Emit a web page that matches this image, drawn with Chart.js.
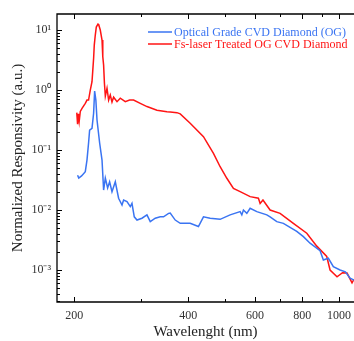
<!DOCTYPE html>
<html><head><meta charset="utf-8">
<script src="https://cdn.jsdelivr.net/npm/chart.js@4/dist/chart.umd.min.js"></script>
<style>html,body{margin:0;padding:0;background:#fff;overflow:hidden}</style>
</head><body><canvas id="c" width="354" height="341"></canvas>
<script>
const seriesNames = ['Optical Grade CVD Diamond (OG)', 'Fs-laser Treated OG CVD Diamond'];
const blueWavelengths = [204,205.5,209,213.8,216,218.1,219.5,222.7,224.9,226.3,228,229.6,233.3,236.7,239,241.5,244.9,247.9,251.5,256.6,261.8,267.3,269.9,275.5,281.1,284,288,292.8,301.8,311.1,317.4,327.2,337.3,344.1,354.8,358.4,369.5,380.9,404.6,425.5,438.7,456.9,485.5,515.9,548.3,554,559.4,571.1,582.7,606.9,644.9,657.9,685.2,713.3,773.8,805.6,839,891.6,909.7,937.7,966.6,1006.8,1040,1069.9,1096];
const blueValues = [0.038,0.034,0.037,0.0435,0.068,0.131,0.215,0.23,0.41,0.96,0.68,0.316,0.131,0.068,0.0215,0.034,0.0233,0.0296,0.0202,0.0296,0.0157,0.0121,0.0147,0.0138,0.0114,0.0129,0.0077,0.0068,0.0073,0.0083,0.0064,0.0073,0.0077,0.0077,0.0088,0.0089,0.0068,0.0060,0.0060,0.0053,0.0077,0.0073,0.0070,0.0083,0.0094,0.0083,0.010,0.0088,0.0107,0.0094,0.0083,0.0077,0.0064,0.0060,0.0044,0.0036,0.0028,0.0021,0.00147,0.00157,0.00114,0.0010,0.00093,0.00073,0.00068];
const redWavelengths = [203,204,205,206,207.4,209.6,213.8,216,218.1,220.4,222.7,223.8,224.9,225.8,227.2,228.6,231,231.8,234.2,236.7,237.8,239,240.2,241.5,244,246.4,248.9,251.5,254,259.3,264.5,272.7,279.9,286.8,298.7,311.1,330.6,351.3,358.4,373.3,380.9,404.6,438.7,466.2,485.5,505.7,526.4,548.3,582.7,612.8,619.2,630,657.9,699.1,757.9,822.4,873.9,928.6,947.5,988.6,1022,1050.6,1083,1096];
const redValues = [0.42,0.27,0.40,0.30,0.44,0.495,0.60,0.68,0.68,1.0,1.375,2.15,3.38,5.6,8.25,11.2,12.6,12.45,10,6.8,3.6,2.6,1.3,0.79,1.07,0.68,0.825,0.63,0.76,0.64,0.73,0.64,0.68,0.68,0.60,0.53,0.46,0.435,0.43,0.42,0.40,0.279,0.167,0.088,0.0527,0.0338,0.023,0.0202,0.0167,0.0157,0.0129,0.0147,0.010,0.0088,0.0060,0.0041,0.0025,0.00168,0.0010,0.00077,0.0009,0.00089,0.00061,0.00070];
const xTickValues = [200,300,400,500,600,700,800,900,1000];
const xTickLabels = ['200','','400','','600','','800','','1000'];
const yMajorValues = [0.001,0.01,0.1,1,10];
const yTickLabels = ['10\u207B\u00B3','10\u207B\u00B2','10\u207B\u00B9','10\u2070','10\u00B9'];
const xTitle = 'Wavelenght (nm)';
const yTitle = 'Normalized Responsivity (a.u.)';

const BLUE = '#3a74f2', RED = '#ff1414';
const SERIF = '"Liberation Serif","Times New Roman",serif';

const pts = (xs, ys) => xs.map((x, i) => ({x, y: ys[i]}));

const frameTicks = {
  id: 'frameTicks',
  afterDatasetsDraw(chart) {
    const {ctx, chartArea: a, scales: {x, y}} = chart;
    ctx.save();
    ctx.strokeStyle = '#000';
    ctx.lineWidth = 1.3;
    ctx.beginPath();
    ctx.moveTo(a.right + 2, a.top); ctx.lineTo(a.left, a.top);
    ctx.lineTo(a.left, a.bottom); ctx.lineTo(a.right + 2, a.bottom);
    ctx.stroke();
    ctx.lineWidth = 1;
    ctx.beginPath();
    xTickValues.forEach((v, i) => {
      const px = Math.round(x.getPixelForValue(v)) + 0.5;
      const len = xTickLabels[i] ? 5 : 3;
      ctx.moveTo(px, a.bottom); ctx.lineTo(px, a.bottom - len);
      ctx.moveTo(px, a.top); ctx.lineTo(px, a.top + len);
    });
    const lo = Math.floor(Math.log10(y.min)), hi = Math.ceil(Math.log10(y.max));
    for (let e = lo; e <= hi; e++) {
      for (let k = 1; k <= 9; k++) {
        const v = k * Math.pow(10, e);
        if (v < y.min || v > y.max) continue;
        const py = Math.round(y.getPixelForValue(v)) + 0.5;
        const len = k === 1 ? 5 : 3;
        ctx.moveTo(a.left, py); ctx.lineTo(a.left + len, py);
      }
    }
    ctx.stroke();
    ctx.restore();
  },
  afterDraw(chart) {
    const {ctx, chartArea: a} = chart;
    ctx.save();
    ctx.font = '12px ' + SERIF;
    ctx.textBaseline = 'middle';
    chart.data.datasets.forEach((ds, i) => {
      const yy = a.top + 18 + 12 * i;
      const x0 = a.left + 91;
      ctx.strokeStyle = ds.borderColor;
      ctx.lineWidth = 1.5;
      ctx.beginPath(); ctx.moveTo(x0, yy); ctx.lineTo(x0 + 24, yy); ctx.stroke();
      ctx.fillStyle = ds.borderColor;
      ctx.fillText(ds.label, x0 + 26, yy + 1);
    });
    ctx.restore();
  }
};

new Chart(document.getElementById('c'), {
  type: 'line',
  data: {
    datasets: [
      {label: seriesNames[0], data: pts(blueWavelengths, blueValues), borderColor: BLUE, borderWidth: 1.5, pointRadius: 0, tension: 0, fill: false},
      {label: seriesNames[1], data: pts(redWavelengths, redValues), borderColor: RED, borderWidth: 1.5, pointRadius: 0, tension: 0, fill: false}
    ]
  },
  options: {
    responsive: false, animation: false, devicePixelRatio: 1,
    layout: {padding: {top: 14, right: 0, left: 0, bottom: 0}},
    plugins: {legend: {display: false}, tooltip: {enabled: false}},
    scales: {
      x: {
        type: 'logarithmic', min: 180, max: 1096, position: 'bottom',
        grid: {display: false, drawTicks: false}, border: {display: false},
        afterBuildTicks: s => { s.ticks = xTickValues.map(v => ({value: v})); },
        afterFit: s => { s.height = 39; s.paddingLeft = 0; s.paddingRight = 0; },
        ticks: {autoSkip: false, maxRotation: 0, padding: 7, color: '#333', font: {family: SERIF, size: 12},
                callback: (v, i) => xTickLabels[i]},
        title: {display: true, text: xTitle, color: '#222', font: {family: SERIF, size: 15}, padding: {top: 0, bottom: 0}}
      },
      y: {
        type: 'logarithmic', min: 0.000293, max: 18.5, position: 'left',
        grid: {display: false, drawTicks: false}, border: {display: false},
        afterBuildTicks: s => { s.ticks = yMajorValues.map(v => ({value: v})); },
        afterFit: s => { s.width = 57; s.paddingTop = 0; s.paddingBottom = 0; },
        ticks: {autoSkip: false, padding: 6, color: '#333', font: {family: SERIF, size: 12},
                callback: (v, i) => yTickLabels[i]},
        title: {display: true, text: yTitle, color: '#222', font: {family: SERIF, size: 15}, padding: {top: 9, bottom: 0}}
      }
    }
  },
  plugins: [frameTicks]
});
</script>
</body></html>
